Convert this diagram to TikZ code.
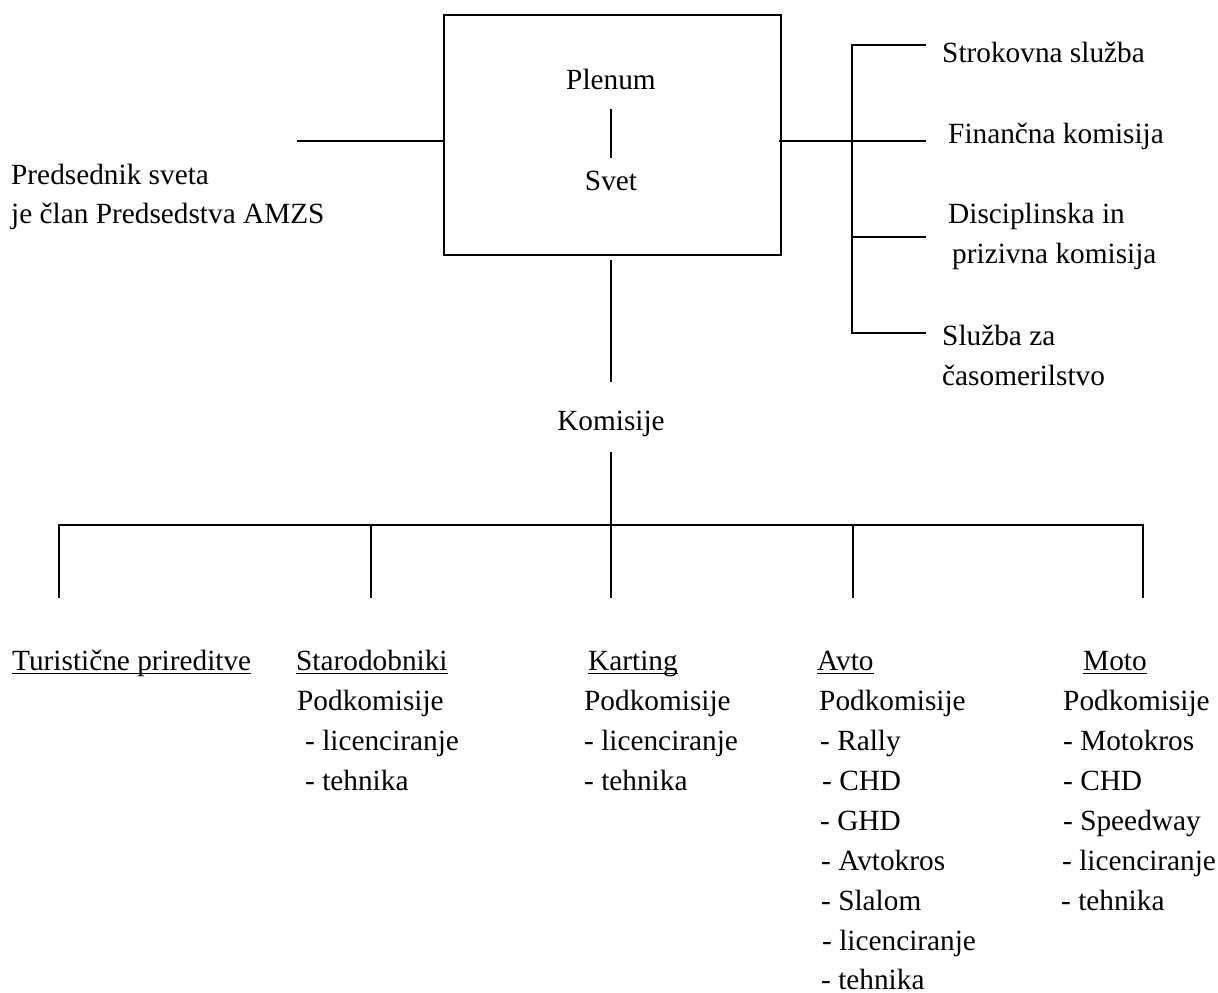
\documentclass[tikz,border=0pt]{standalone}
\usepackage{fontspec}
\setmainfont{Liberation Serif}
\begin{document}
\begin{tikzpicture}[x=1pt,y=-1pt,
  txt/.style={anchor=base west,inner sep=0pt,font=\fontsize{29.3}{40}\selectfont},
  ctxt/.style={anchor=base,inner sep=0pt,font=\fontsize{29.3}{40}\selectfont},
  ln/.style={line width=1.7pt,line cap=rect},
  uline/.style={line width=1.5pt},
  boxst/.style={draw,line width=2.2pt,inner sep=0pt}]
\useasboundingbox (0,0) rectangle (1218,993);
% main box
\node[boxst,minimum width=337pt,minimum height=240pt,anchor=north west] (box) at (443,14) {};
\node[ctxt] (plenum) at (611,89) {Plenum};
\node[ctxt] (svet) at (611,190) {Svet};
\coordinate (ps1) at (611,110);
\coordinate (ps2) at (611,157);
\draw[ln] (ps1) -- (ps2);
% left
\coordinate (lft) at (298,141);
\coordinate (boxl) at (443,141);
\draw[ln] (lft) -- (boxl);
\node[txt] (pred1) at (11,184) {Predsednik sveta};
\node[txt] (pred2) at (11,223) {je član Predsedstva AMZS};
% right
\coordinate (boxr) at (780,141);
\coordinate (rj) at (852,141);
\coordinate (rt) at (852,45);
\coordinate (rb) at (852,333);
\coordinate (r3) at (852,237);
\coordinate (e1) at (925,45);
\coordinate (e2) at (925,141);
\coordinate (e3) at (925,237);
\coordinate (e4) at (925,333);
\draw[ln] (boxr) -- (rj);
\draw[ln] (e1) -- (rt) -- (rb) -- (e4);
\draw[ln] (rj) -- (e2);
\draw[ln] (r3) -- (e3);
\node[txt] (strok) at (942,62) {Strokovna služba};
\node[txt] (fin) at (948,143) {Finančna komisija};
\node[txt] (disc1) at (948,223) {Disciplinska in};
\node[txt] (disc2) at (952,263) {prizivna komisija};
\node[txt] (sluz1) at (942,345) {Služba za};
\node[txt] (sluz2) at (942,385) {časomerilstvo};
% down to Komisije
\coordinate (bb) at (611,261);
\coordinate (kt) at (611,381);
\draw[ln] (bb) -- (kt);
\node[ctxt] (kom) at (611,430) {Komisije};
\coordinate (kb) at (611,453);
\coordinate (hl) at (59,525);
\coordinate (hr) at (1143,525);
\coordinate (v1) at (59,597);
\coordinate (v2t) at (371,525);
\coordinate (v2) at (371,597);
\coordinate (v3) at (611,597);
\coordinate (v4t) at (853,525);
\coordinate (v4) at (853,597);
\coordinate (v5) at (1143,597);
\draw[ln] (kb) -- (v3);
\draw[ln] (v1) -- (hl) -- (hr) -- (v5);
\draw[ln] (v2t) -- (v2);
\draw[ln] (v4t) -- (v4);
% bottom columns
\node[txt] (tur) at (12,670) {Turistične prireditve};
\draw[uline] ([yshift=-3.5pt]tur.base west) -- ([yshift=-3.5pt]tur.base east);
\node[txt] (star) at (296,670) {Starodobniki};
\draw[uline] ([yshift=-3.5pt]star.base west) -- ([yshift=-3.5pt]star.base east);
\node[txt] (starp) at (297,710) {Podkomisije};
\node[txt] (star1) at (305,750) {- licenciranje};
\node[txt] (star2) at (305,790) {- tehnika};
\node[txt] (kart) at (588,670) {Karting};
\draw[uline] ([yshift=-3.5pt]kart.base west) -- ([yshift=-3.5pt]kart.base east);
\node[txt] (kartp) at (584,710) {Podkomisije};
\node[txt] (kart1) at (584,750) {- licenciranje};
\node[txt] (kart2) at (584,790) {- tehnika};
\node[txt] (avto) at (817,670) {Avto};
\draw[uline] ([yshift=-3.5pt]avto.base west) -- ([yshift=-3.5pt]avto.base east);
\node[txt] (avtop) at (819,710) {Podkomisije};
\node[txt] (avto1) at (820,750) {- Rally};
\node[txt] (avto2) at (822,790) {- CHD};
\node[txt] (avto3) at (820,830) {- GHD};
\node[txt] (avto4) at (821,870) {- Avtokros};
\node[txt] (avto5) at (821,910) {- Slalom};
\node[txt] (avto6) at (822,950) {- licenciranje};
\node[txt] (avto7) at (821,989) {- tehnika};
\node[txt] (moto) at (1083,670) {Moto};
\draw[uline] ([yshift=-3.5pt]moto.base west) -- ([yshift=-3.5pt]moto.base east);
\node[txt] (motop) at (1063,710) {Podkomisije};
\node[txt] (moto1) at (1063,750) {- Motokros};
\node[txt] (moto2) at (1063,790) {- CHD};
\node[txt] (moto3) at (1063,830) {- Speedway};
\node[txt] (moto4) at (1062,870) {- licenciranje};
\node[txt] (moto5) at (1061,910) {- tehnika};
\end{tikzpicture}
\end{document}
